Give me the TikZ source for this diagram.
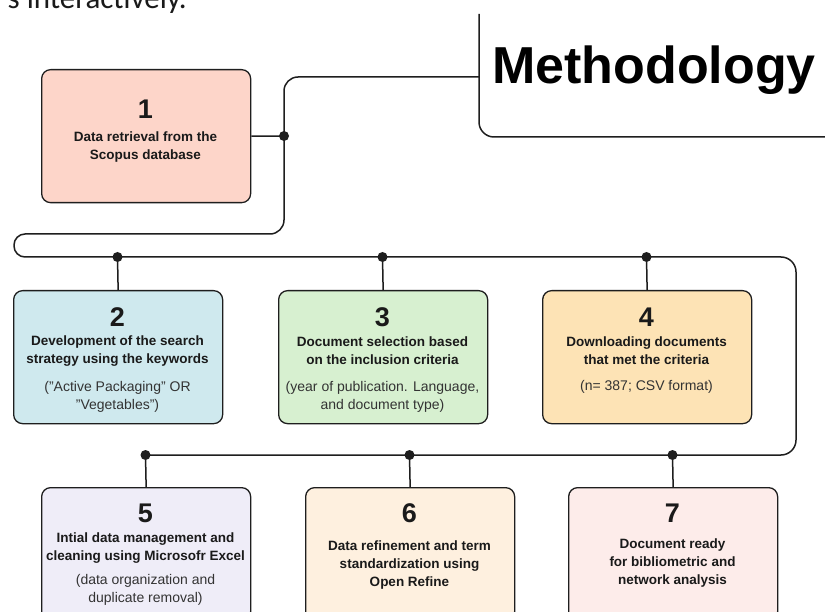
\documentclass[tikz,border=0pt]{standalone}
\usepackage{fontspec}
\setmainfont{Liberation Sans}
\newfontfamily\topfont{Carlito}
\definecolor{linec}{HTML}{1E1E1E}
\definecolor{txt}{HTML}{1A1A1A}
\definecolor{subc}{HTML}{333333}
\definecolor{c1}{HTML}{FDD5C9}
\definecolor{c2}{HTML}{CFE9EE}
\definecolor{c3}{HTML}{D7F0D0}
\definecolor{c4}{HTML}{FDE3B5}
\definecolor{c5}{HTML}{EFEDF8}
\definecolor{c6}{HTML}{FEF0DF}
\definecolor{c7}{HTML}{FDECEA}
\begin{document}
\begin{tikzpicture}[x=1pt,y=-1pt,
  box/.style={draw=linec,line width=1.3pt,rounded corners=9pt,anchor=north west,
    inner sep=0pt,minimum width=209pt,minimum height=133pt},
  num/.style={text=txt,inner sep=0pt,font=\bfseries\fontsize{27}{27}\selectfont},
  ttl/.style={text=txt,inner sep=0pt,align=center,font=\bfseries\fontsize{13.5}{18}\selectfont},
  sub/.style={text=subc,inner sep=0pt,align=center,font=\fontsize{14}{18}\selectfont},
  conn/.style={draw=linec,line width=1.5pt},
  dot/.style={fill=linec}]
\useasboundingbox (0,0) rectangle (825,612);
\clip (0,0) rectangle (825,612);
\fill[white] (0,0) rectangle (825,612);

% cut-off text fragment at top
\node[anchor=base east,inner sep=0pt,text=txt,font=\topfont\fontsize{31}{31}\selectfont] (frag) at (187,9) {s interactively.};

% Methodology frame
\draw[conn,rounded corners=15pt] (479,14) -- (479,137) -- (840,137);
\coordinate (tl) at (479,77);
\node[anchor=base west,inner sep=0pt,text=black,font=\bfseries\fontsize{52}{52}\selectfont] (title) at (492,84) {Methodology};

% boxes
\node[box,fill=c1] (b1) at (41,69) {};
\node[box,fill=c2] (b2) at (13,290) {};
\node[box,fill=c3] (b3) at (278,290) {};
\node[box,fill=c4] (b4) at (542,290) {};
\node[box,fill=c5] (b5) at (41,487) {};
\node[box,fill=c6] (b6) at (305,487) {};
\node[box,fill=c7] (b7) at (568,487) {};

% texts
\node[num] (n1) at (145.5,109.5) {1};
\node[ttl] (t1) at (145.5,147) {Data retrieval from the\\Scopus database};

\node[num] (n2) at (117.5,317) {2};
\node[ttl] (t2) at (117.5,351) {Development of the search\\strategy using the keywords};
\node[sub] (s2) at (117.5,397) {("Active Packaging" OR\\"Vegetables")};

\node[num] (n3) at (382.5,317) {3};
\node[ttl] (t3) at (382.5,351) {Document selection based\\on the inclusion criteria};
\node[sub] (s3) at (382.5,397) {(year of publication. Language,\\and document type)};

\node[num] (n4) at (646.5,317) {4};
\node[ttl] (t4) at (646.5,351) {Downloading documents\\that met the criteria};
\node[sub] (s4) at (646.5,387) {(n= 387; CSV format)};

\node[num] (n5) at (145.5,513) {5};
\node[ttl] (t5) at (145.5,548) {Intial data management and\\cleaning using Microsofr Excel};
\node[sub] (s5) at (145.5,590) {(data organization and\\duplicate removal)};

\node[num] (n6) at (409.5,513) {6};
\node[ttl] (t6) at (409.5,565) {Data refinement and term\\standardization using\\Open Refine};

\node[num] (n7) at (672.5,513) {7};
\node[ttl] (t7) at (672.5,563) {Document ready\\for bibliometric and\\network analysis};

% junction coordinates
\coordinate (d1) at (284,136);
\coordinate (d2) at (117.5,257);
\coordinate (d3) at (382.5,257);
\coordinate (d4) at (646.5,257);
\coordinate (d5) at (145.5,455);
\coordinate (d6) at (409.5,455);
\coordinate (d7) at (672.5,455);

% main connector
\draw[conn,rounded corners=14pt] (tl) -- (284,77) -- (284,234)
  [rounded corners=11pt] -- (14,234) -- (14,257)
  [rounded corners=15pt] -- (796,257) -- (796,455) -- (d5);

% branches
\draw[conn] (b1.east) -- (d1);
\draw[conn] (d2) -- (b2.north);
\draw[conn] (d3) -- (b3.north);
\draw[conn] (d4) -- (b4.north);
\draw[conn] (d5) -- (b5.north);
\draw[conn] (d6) -- (b6.north);
\draw[conn] (d7) -- (b7.north);

\foreach \d in {d1,d2,d3,d4,d5,d6,d7} \fill[dot] (\d) circle (5pt);
\end{tikzpicture}
\end{document}
